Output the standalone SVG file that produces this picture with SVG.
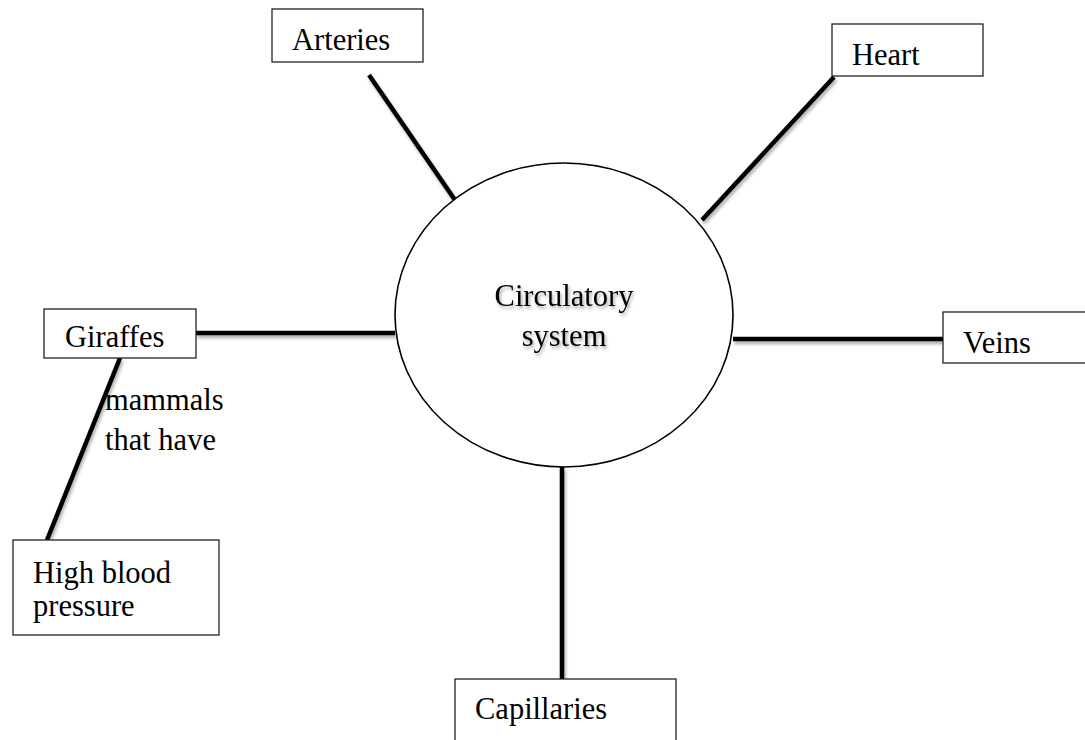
<svg xmlns="http://www.w3.org/2000/svg" width="1085" height="740" viewBox="0 0 1085 740">
  <defs>
    <filter id="sh" x="-20%" y="-20%" width="140%" height="160%">
      <feDropShadow dx="1.5" dy="3" stdDeviation="1.8" flood-color="#000" flood-opacity="0.3"/>
    </filter>
    <filter id="tsh" x="-10%" y="-20%" width="120%" height="160%">
      <feDropShadow dx="1.5" dy="2.5" stdDeviation="1.5" flood-color="#000" flood-opacity="0.35"/>
    </filter>
  </defs>
  <style>
    .box { fill: #fff; stroke: #222; stroke-width: 1.3; }
    .lbl { font-family: "Liberation Serif", "Times New Roman", serif; font-size: 30.5px; fill: #000; }
    .conn { stroke: #000; stroke-width: 4.5; fill: none; stroke-linecap: butt; }
  </style>
  <rect width="1085" height="740" fill="#fff"/>

  <g id="connectors" filter="url(#sh)">
    <line class="conn" x1="369" y1="75" x2="455" y2="200"/>
    <line class="conn" x1="834" y1="77" x2="702" y2="220"/>
    <line class="conn" x1="196" y1="333" x2="395" y2="333"/>
    <line class="conn" x1="733" y1="339" x2="943" y2="339"/>
    <line class="conn" x1="562" y1="467" x2="562" y2="679"/>
    <line class="conn" x1="120" y1="358" x2="47" y2="540"/>
  </g>

  <g id="center">
    <ellipse cx="564" cy="315" rx="169" ry="152" fill="#fff" stroke="#000" stroke-width="1.6"/>
    <g filter="url(#tsh)">
      <text class="lbl" x="564" y="306" text-anchor="middle">Circulatory</text>
      <text class="lbl" x="564" y="346" text-anchor="middle">system</text>
    </g>
  </g>

  <g id="arteries">
    <rect class="box" x="272" y="9" width="151" height="53"/>
    <text class="lbl" x="292" y="50">Arteries</text>
  </g>

  <g id="heart">
    <rect class="box" x="832" y="24" width="151" height="52"/>
    <text class="lbl" x="852" y="65">Heart</text>
  </g>

  <g id="giraffes">
    <rect class="box" x="44" y="309" width="152" height="49"/>
    <text class="lbl" x="65" y="347">Giraffes</text>
  </g>

  <g id="veins">
    <rect class="box" x="943" y="312" width="150" height="51"/>
    <text class="lbl" x="963" y="353">Veins</text>
  </g>

  <g id="capillaries">
    <rect class="box" x="455" y="679" width="221" height="70"/>
    <text class="lbl" x="475" y="719">Capillaries</text>
  </g>

  <g id="high-blood-pressure">
    <rect class="box" x="13" y="540" width="206" height="95"/>
    <text class="lbl" x="33" y="583">High blood</text>
    <text class="lbl" x="33" y="616">pressure</text>
  </g>

  <g id="edge-label">
    <text class="lbl" x="105" y="410">mammals</text>
    <text class="lbl" x="105" y="450">that have</text>
  </g>
</svg>
